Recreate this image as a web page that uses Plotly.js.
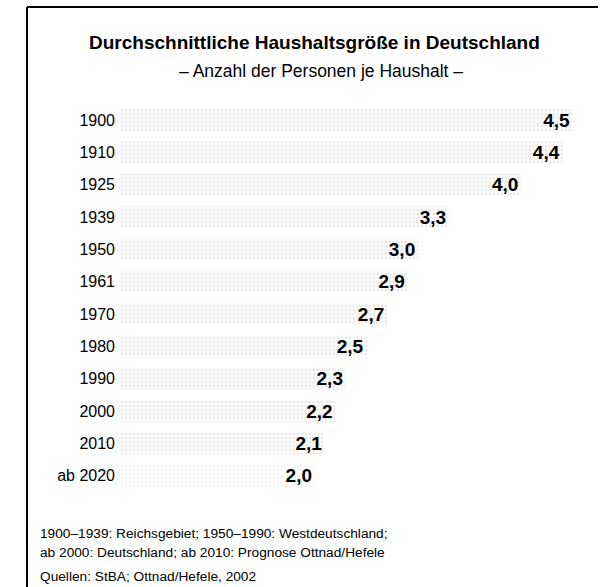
<!DOCTYPE html>
<html>
<head>
<meta charset="utf-8">
<script src="https://cdn.plot.ly/plotly-3.0.1.min.js"></script>
<style>html,body{margin:0;padding:0;background:#fff;}</style>
</head>
<body>
<div id="chart" style="width:602px;height:587px;"></div>
<script>
const years = ["1900","1910","1925","1939","1950","1961","1970","1980","1990","2000","2010","ab 2020"];
const persons = [4.5, 4.4, 4.0, 3.3, 3.0, 2.9, 2.7, 2.5, 2.3, 2.2, 2.1, 2.0];
const titleText = "Durchschnittliche Haushaltsgröße in Deutschland";
const subtitleText = "– Anzahl der Personen je Haushalt –";
const note1 = "1900–1939: Reichsgebiet; 1950–1990: Westdeutschland;";
const note2 = "ab 2000: Deutschland; ab 2010: Prognose Ottnad/Hefele";
const sourceText = "Quellen: StBA; Ottnad/Hefele, 2002";

const W = 602, H = 587;
const mL = 120, mR = 12, mT = 104, mB = 95;
const pw = W - mL - mR, ph = H - mT - mB;
const px = x => (x - mL) / pw;
const py = y => (H - mB - y) / ph;

const fg = years.map((y, i) => i === years.length - 1 ? "#bdbdbd" : "#999999");
const bg = years.map((y, i) => i === years.length - 1 ? "#f6f6f6" : "#e8e8e8");

const trace = {
  type: "bar",
  orientation: "h",
  y: years,
  x: persons,
  width: 0.68,
  marker: {
    color: bg,
    line: {width: 0},
    pattern: {shape: ".", fgcolor: fg, bgcolor: bg, size: 4, solidity: 0.4}
  },
  texttemplate: "%{x:.1f}",
  textposition: "inside",
  insidetextanchor: "end",
  constraintext: "none",
  textfont: {family: "Liberation Sans, Arial, sans-serif", size: 19, color: "#000", weight: "bold"},
  hoverinfo: "skip"
};

const layout = {
  width: W, height: H,
  margin: {l: mL, r: mR, t: mT, b: mB},
  paper_bgcolor: "#fff",
  plot_bgcolor: "rgba(0,0,0,0)",
  separators: ",.",
  showlegend: false,
  bargap: 0.32,
  xaxis: {range: [0.11, 4.665], visible: false, fixedrange: true},
  yaxis: {
    type: "category", autorange: "reversed",
    showgrid: false, zeroline: false, showline: false, ticks: "",
    ticklabelstandoff: 4,
    tickfont: {family: "Liberation Sans, Arial, sans-serif", size: 16, color: "#000"}
  },
  shapes: [
    {type: "line", xref: "paper", yref: "paper", x0: px(27), x1: px(598), y0: py(7), y1: py(7), line: {color: "#000", width: 2}},
    {type: "line", xref: "paper", yref: "paper", x0: px(27), x1: px(27), y0: py(7), y1: py(600), line: {color: "#000", width: 2}}
  ],
  annotations: [
    {xref: "paper", yref: "paper", x: px(314), y: py(43), xanchor: "center", yanchor: "middle", showarrow: false,
     text: "<b>" + titleText + "</b>", font: {family: "Liberation Sans, Arial, sans-serif", size: 19, color: "#000"}},
    {xref: "paper", yref: "paper", x: px(321), y: py(71), xanchor: "center", yanchor: "middle", showarrow: false,
     text: subtitleText, font: {family: "Liberation Sans, Arial, sans-serif", size: 17.5, color: "#000"}},
    {xref: "paper", yref: "paper", x: px(38), y: py(533), xanchor: "left", yanchor: "middle", showarrow: false, align: "left",
     text: note1, font: {family: "Liberation Sans, Arial, sans-serif", size: 13.7, color: "#000"}},
    {xref: "paper", yref: "paper", x: px(38), y: py(552), xanchor: "left", yanchor: "middle", showarrow: false, align: "left",
     text: note2, font: {family: "Liberation Sans, Arial, sans-serif", size: 13.7, color: "#000"}},
    {xref: "paper", yref: "paper", x: px(38), y: py(576), xanchor: "left", yanchor: "middle", showarrow: false, align: "left",
     text: sourceText, font: {family: "Liberation Sans, Arial, sans-serif", size: 13.7, color: "#000"}}
  ]
};

Plotly.newPlot("chart", [trace], layout, {staticPlot: true, displayModeBar: false});
</script>
</body>
</html>
